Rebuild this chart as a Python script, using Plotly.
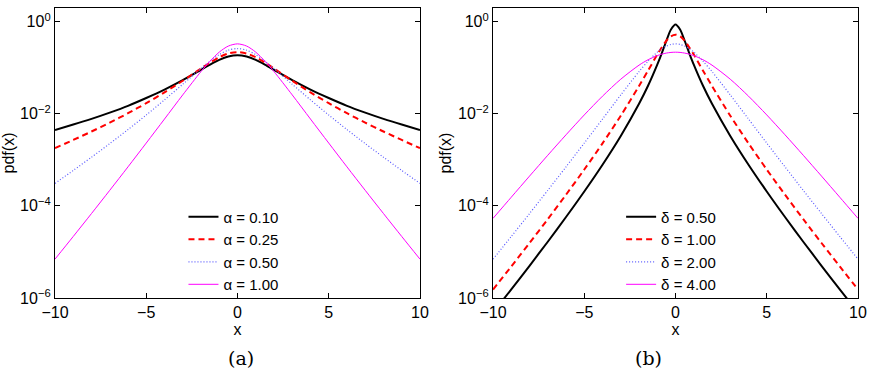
import plotly.graph_objects as go

# ---- Panel (a): varying alpha ----
xa = [-10, -9, -8, -7, -6, -5, -4, -3, -2, -1.5, -1, -0.5, 0, 0.5, 1, 1.5, 2, 3, 4, 5, 6, 7, 8, 9, 10]
a010 = [0.004435, 0.00582, 0.00776, 0.01061, 0.01488, 0.02195, 0.03335, 0.05344, 0.0899, 0.1166, 0.1473, 0.1744, 0.1857,
        0.1744, 0.1473, 0.1166, 0.0899, 0.05344, 0.03335, 0.02195, 0.01488, 0.01061, 0.00776, 0.00582, 0.004435]
a025 = [0.001788, 0.002698, 0.004114, 0.00641, 0.01026, 0.01696, 0.02914, 0.0520, 0.0961, 0.1296, 0.1688, 0.2031, 0.2173,
        0.2031, 0.1688, 0.1296, 0.0961, 0.0520, 0.02914, 0.01696, 0.01026, 0.00641, 0.004114, 0.002698, 0.001788]
a050 = [0.0003078, 0.000588, 0.00114, 0.002247, 0.004538, 0.009385, 0.02003, 0.04365, 0.0962, 0.1394, 0.1922, 0.2403, 0.2604,
        0.2403, 0.1922, 0.1394, 0.0962, 0.04365, 0.02003, 0.009385, 0.004538, 0.002247, 0.00114, 0.000588, 0.0003078]
a100 = [6.98e-6, 2.168e-5, 6.82e-5, 0.0002174, 0.000703, 0.002312, 0.00768, 0.02567, 0.0824, 0.1390, 0.2177, 0.2950, 0.329,
        0.2950, 0.2177, 0.1390, 0.0824, 0.02567, 0.00768, 0.002312, 0.000703, 0.0002174, 6.82e-5, 2.168e-5, 6.98e-6]

# ---- Panel (b): varying delta ----
xb = [-10, -9, -8, -7, -6, -5, -4, -3, -2, -1.5, -1, -0.75, -0.5, -0.25, 0, 0.25, 0.5, 0.75, 1, 1.5, 2, 3, 4, 5, 6, 7, 8, 9, 10]
d050 = [4.83e-7, 1.540e-6, 5.008e-6, 1.666e-5, 5.727e-5, 0.0002055, 0.000784, 0.003304, 0.01646, 0.04104, 0.1166, 0.2082, 0.3845, 0.675, 0.869,
        0.675, 0.3845, 0.2082, 0.1166, 0.04104, 0.01646, 0.003304, 0.000784, 0.0002055, 5.727e-5, 1.666e-5, 5.008e-6, 1.540e-6, 4.83e-7]
d100 = [1.524e-6, 4.842e-6, 1.563e-5, 5.153e-5, 0.0001748, 0.0006155, 0.002279, 0.009077, 0.04005, 0.0873, 0.1924, 0.2788, 0.3844, 0.4805, 0.5208,
        0.4805, 0.3844, 0.2788, 0.1924, 0.0873, 0.04005, 0.009077, 0.002279, 0.0006155, 0.0001748, 5.153e-5, 1.563e-5, 4.842e-6, 1.524e-6]
d200 = [6.98e-6, 2.168e-5, 6.82e-5, 0.0002174, 0.000703, 0.002312, 0.00768, 0.02567, 0.0824, 0.1390, 0.2177, 0.2590, 0.2950, 0.3200, 0.329,
        0.3200, 0.2950, 0.2590, 0.2177, 0.1390, 0.0824, 0.02567, 0.00768, 0.002312, 0.000703, 0.0002174, 6.82e-5, 2.168e-5, 6.98e-6]
d400 = [5.36e-5, 0.0001544, 0.000443, 0.001256, 0.003492, 0.009424, 0.02411, 0.05624, 0.1135, 0.1491, 0.1831, 0.1970, 0.2077, 0.2146, 0.2170,
        0.2146, 0.2077, 0.1970, 0.1831, 0.1491, 0.1135, 0.05624, 0.02411, 0.009424, 0.003492, 0.001256, 0.000443, 0.0001544, 5.36e-5]

names_a = ["α = 0.10", "α = 0.25", "α = 0.50", "α = 1.00"]
names_b = ["δ = 0.50", "δ = 1.00", "δ = 2.00", "δ = 4.00"]

x_ticks = [-10, -5, 0, 5, 10]
y_tickvals = [1, 1e-2, 1e-4, 1e-6]
y_ticktext = ["10<sup>0</sup>", "10<sup>−2</sup>", "10<sup>−4</sup>", "10<sup>−6</sup>"]

styles = [
    dict(color="black", width=2, dash="solid"),
    dict(color="#ff0000", width=2, dash="6px,4px"),
    dict(color="#5a5aff", width=1.2, dash="1px,2px"),
    dict(color="#ff00ff", width=1, dash="solid"),
]

fig = go.Figure()
for ys, nm, st in zip([a010, a025, a050, a100], names_a, styles):
    fig.add_trace(go.Scatter(x=xa, y=ys, name=nm, mode="lines", line=dict(shape="spline", smoothing=0.8, **st),
                             xaxis="x", yaxis="y", legend="legend"))
for ys, nm, st in zip([d050, d100, d200, d400], names_b, styles):
    fig.add_trace(go.Scatter(x=xb, y=ys, name=nm, mode="lines", line=dict(shape="spline", smoothing=0.8, **st),
                             xaxis="x2", yaxis="y2", legend="legend2"))

FONT = "Liberation Sans"
axis_common = dict(showline=True, linecolor="black", linewidth=1.3, mirror="ticks", ticks="inside",
                   ticklen=5, tickcolor="black", showgrid=False, zeroline=False,
                   tickfont=dict(family=FONT, size=16, color="black"))

xa_common = dict(axis_common, range=[-10, 10], tickvals=x_ticks,
                 title=dict(text="x", font=dict(family=FONT, size=16, color="black"), standoff=0))
ya_common = dict(axis_common, type="log", range=[-6, 0.296], tickvals=y_tickvals, ticktext=y_ticktext,
                 title=dict(text="pdf(x)", font=dict(family=FONT, size=16, color="black"), standoff=2))

leg_common = dict(font=dict(family=FONT, size=15, color="black"), bgcolor="rgba(0,0,0,0)",
                  itemwidth=30, tracegroupgap=0, yanchor="top", xanchor="left")

fig.update_layout(
    width=874, height=372,
    margin=dict(l=49, r=11, t=7, b=74),
    plot_bgcolor="white", paper_bgcolor="white",
    xaxis=dict(xa_common, domain=[0, 0.4545], anchor="y"),
    yaxis=dict(ya_common, domain=[0, 1], anchor="x"),
    xaxis2=dict(xa_common, domain=[0.5455, 1], anchor="y2"),
    yaxis2=dict(ya_common, domain=[0, 1], anchor="x2"),
    legend=dict(leg_common, x=0.16, y=0.336),
    legend2=dict(leg_common, x=0.705, y=0.336),
    annotations=[
        dict(text="(a)", x=(222 - 49) / 814, y=-0.206, xref="paper", yref="paper", showarrow=False,
             font=dict(family="DejaVu Serif", size=19, color="black"), yanchor="middle"),
        dict(text="(b)", x=(666 - 49) / 814, y=-0.206, xref="paper", yref="paper", showarrow=False,
             font=dict(family="DejaVu Serif", size=19, color="black"), yanchor="middle"),
    ],
)

fig.write_html("out.html")
